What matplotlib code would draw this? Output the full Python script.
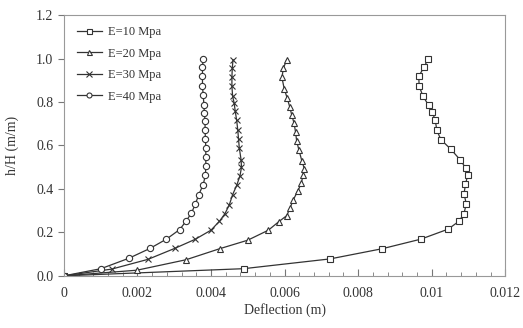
import matplotlib
matplotlib.use('Agg')
import matplotlib.pyplot as plt
from matplotlib.ticker import MultipleLocator

plt.rcParams['font.family'] = ['Liberation Serif', 'DejaVu Serif']

# E = 10 MPa
x_e10 = [0.00991, 0.00980, 0.00965, 0.00966, 0.00976, 0.00992, 0.01002, 0.01010, 0.01014,
         0.01025, 0.01052, 0.01078, 0.01093, 0.01098, 0.01092, 0.01088, 0.01094, 0.01088,
         0.01074, 0.01045, 0.00971, 0.00866, 0.00724, 0.00489, 0.0]
y_e10 = [1.0, 0.963, 0.918, 0.874, 0.828, 0.784, 0.752, 0.715, 0.670,
         0.627, 0.583, 0.533, 0.495, 0.464, 0.421, 0.378, 0.332, 0.286,
         0.251, 0.215, 0.169, 0.125, 0.078, 0.033, 0.0]

# E = 20 MPa
x_e20 = [0.00606, 0.00597, 0.00593, 0.00599, 0.00607, 0.00614, 0.00620, 0.00626, 0.00630,
         0.00633, 0.00639, 0.00647, 0.00654, 0.00650, 0.00646, 0.00636, 0.00624, 0.00615,
         0.00606, 0.00585, 0.00556, 0.00500, 0.00424, 0.00332, 0.00199, 0.0]
y_e20 = [0.994, 0.956, 0.913, 0.862, 0.819, 0.779, 0.738, 0.702, 0.662,
         0.621, 0.580, 0.530, 0.492, 0.465, 0.426, 0.391, 0.350, 0.312,
         0.277, 0.250, 0.210, 0.164, 0.125, 0.074, 0.026, 0.0]

# E = 30 MPa
x_e30 = [0.00460, 0.00458, 0.00457, 0.00457, 0.00459, 0.00463, 0.00466, 0.00470, 0.00473,
         0.00475, 0.00477, 0.00482, 0.00483, 0.00479, 0.00470, 0.00459, 0.00450, 0.00438,
         0.00423, 0.00400, 0.00357, 0.00301, 0.00229, 0.00130, 0.0]
y_e30 = [0.995, 0.956, 0.913, 0.872, 0.826, 0.796, 0.758, 0.715, 0.670,
         0.629, 0.590, 0.533, 0.499, 0.461, 0.416, 0.374, 0.327, 0.286,
         0.251, 0.210, 0.168, 0.126, 0.076, 0.031, 0.0]

# E = 40 MPa
x_e40 = [0.00379, 0.00377, 0.00377, 0.00377, 0.00379, 0.00381, 0.00382, 0.00384, 0.00384,
         0.00385, 0.00386, 0.00386, 0.00386, 0.00385, 0.00379, 0.00367, 0.00358, 0.00347,
         0.00332, 0.00315, 0.00279, 0.00234, 0.00177, 0.00101, 0.0]
y_e40 = [0.999, 0.963, 0.918, 0.872, 0.831, 0.785, 0.750, 0.712, 0.670,
         0.630, 0.590, 0.545, 0.504, 0.464, 0.420, 0.374, 0.332, 0.289,
         0.251, 0.213, 0.169, 0.126, 0.081, 0.033, 0.0]

labels = ['E=10 Mpa', 'E=20 Mpa', 'E=30 Mpa', 'E=40 Mpa']
markers = ['s', '^', 'x', 'o']
x_ticks = [0, 0.002, 0.004, 0.006, 0.008, 0.010, 0.012]
x_tick_labels = ['0', '0.002', '0.004', '0.006', '0.008', '0.01', '0.012']
y_ticks = [0, 0.2, 0.4, 0.6, 0.8, 1.0, 1.2]
y_tick_labels = ['0.0', '0.2', '0.4', '0.6', '0.8', '1.0', '1.2']

fig = plt.figure(figsize=(5.23, 3.28), dpi=100)
ax = fig.add_axes([0.122, 0.159, 0.844, 0.795])

series = [(x_e10, y_e10), (x_e20, y_e20), (x_e30, y_e30), (x_e40, y_e40)]
for (xs, ys), lab, mk in zip(series, labels, markers):
    ax.plot(xs, ys, color='#333333', lw=0.9, marker=mk, markersize=4.5 if mk != 'x' else 5,
            markerfacecolor='white', markeredgecolor='#333333', markeredgewidth=0.8, label=lab)

ax.set_xlim(0, 0.012)
ax.set_ylim(0, 1.2)
ax.set_xticks(x_ticks)
ax.set_xticklabels(x_tick_labels)
ax.xaxis.set_minor_locator(MultipleLocator(0.0004))
ax.set_yticks(y_ticks)
ax.set_yticklabels(y_tick_labels)
ax.tick_params(axis='x', which='both', direction='in', colors='#777777', labelcolor='#333333', labelsize=10, pad=8)
ax.tick_params(axis='x', which='major', length=5)
ax.tick_params(axis='x', which='minor', length=3)
ax.tick_params(axis='y', direction='out', length=4, colors='#777777', labelcolor='#333333', labelsize=10)
for s in ax.spines.values():
    s.set_color('#999999')
    s.set_linewidth(0.8)

ax.set_xlabel('Deflection (m)', fontsize=10, color='#333333', labelpad=2)
ax.set_ylabel('h/H (m/m)', fontsize=10, color='#333333', labelpad=12)

ax.legend(loc='upper left', frameon=False, fontsize=9, handlelength=2.0, handletextpad=0.5,
          labelspacing=0.75, borderaxespad=0.3, bbox_to_anchor=(0.01, 0.99), labelcolor='#333333',
          markerscale=0.8)

fig.savefig('out.png', dpi=100)
